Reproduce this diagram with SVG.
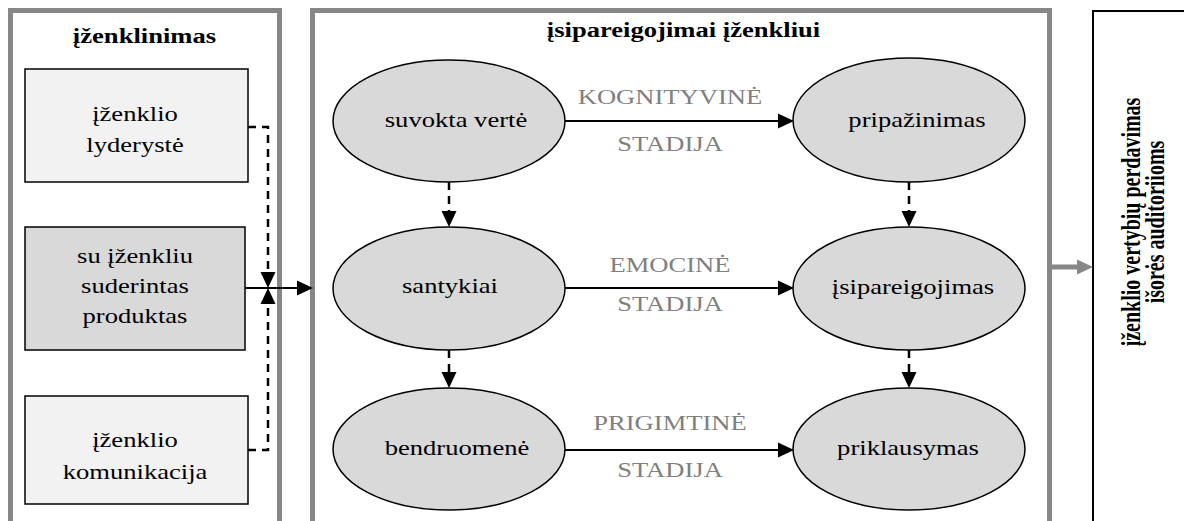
<svg xmlns="http://www.w3.org/2000/svg" width="1184" height="521" viewBox="0 0 1184 521">
  <defs>
    <style>
      .panel{fill:none;stroke:#878787;stroke-width:5}
      .box{stroke:#000;stroke-width:1.5}
      .light{fill:#f2f2f2}
      .mid{fill:#d9d9d9}
      .ell{fill:#d9d9d9;stroke:#000;stroke-width:1.5}
      .lbl{font-family:'Liberation Serif','DejaVu Serif',serif;font-size:20px;text-anchor:middle;fill:#000}
      .title{font-weight:bold}
      .stage{fill:#808080}
      .solid{stroke:#000;stroke-width:2;fill:none}
      .dash{stroke:#000;stroke-width:2.5;fill:none;stroke-dasharray:8 6}
      .grey{stroke:#878787;stroke-width:5;fill:none}
    </style>
    <marker id="ah" markerUnits="userSpaceOnUse" markerWidth="16" markerHeight="15" refX="6" refY="7.5" orient="auto" overflow="visible">
      <path d="M0,0 L16,7.5 L0,15 Z" fill="#000"/>
    </marker>
    <marker id="ahGrey" markerUnits="userSpaceOnUse" markerWidth="16" markerHeight="15" refX="6" refY="7.5" orient="auto" overflow="visible">
      <path d="M0,0 L16,7.5 L0,15 Z" fill="#878787"/>
    </marker>
  </defs>

  <rect width="1184" height="521" fill="#fff"/>

  <g font-family="Liberation Serif, DejaVu Serif, serif">
  <!-- left panel: branding -->
  <g id="panel-branding">
    <rect class="panel" x="10.5" y="10.5" width="269" height="540"/>
    <text class="lbl title" transform="translate(144.5 43) scale(1.33 1)">įženklinimas</text>
  </g>
  <g id="node-lyderyste">
    <rect class="box light" x="25" y="69" width="223" height="113"/>
    <text class="lbl" transform="translate(135 121) scale(1.33 1)"><tspan x="0" y="0">įženklio</tspan><tspan x="0" y="31">lyderystė</tspan></text>
  </g>
  <g id="node-produktas">
    <rect class="box mid" x="25" y="227" width="220" height="123"/>
    <text class="lbl" transform="translate(135 263) scale(1.33 1)"><tspan x="0" y="0">su įženkliu</tspan><tspan x="0" y="30">suderintas</tspan><tspan x="0" y="60">produktas</tspan></text>
  </g>
  <g id="node-komunikacija">
    <rect class="box light" x="25" y="396" width="223" height="108"/>
    <text class="lbl" transform="translate(135 447) scale(1.33 1)"><tspan x="0" y="0">įženklio</tspan><tspan x="0" y="32">komunikacija</tspan></text>
  </g>

  <!-- middle panel: commitments -->
  <g id="panel-commitments">
    <rect class="panel" x="312.5" y="10.5" width="737" height="540"/>
    <text class="lbl title" transform="translate(683.5 37) scale(1.33 1)">įsipareigojimai įženkliui</text>
  </g>
  <g id="node-suvokta-verte">
    <ellipse class="ell" cx="449" cy="121" rx="116" ry="61"/>
    <text class="lbl" transform="translate(456 127) scale(1.33 1)">suvokta vertė</text>
  </g>
  <g id="node-pripazinimas">
    <ellipse class="ell" cx="909" cy="120" rx="116" ry="62"/>
    <text class="lbl" transform="translate(917 127) scale(1.33 1)">pripažinimas</text>
  </g>
  <g id="node-santykiai">
    <ellipse class="ell" cx="449" cy="288.5" rx="116" ry="61.5"/>
    <text class="lbl" transform="translate(450 293) scale(1.33 1)">santykiai</text>
  </g>
  <g id="node-isipareigojimas">
    <ellipse class="ell" cx="909" cy="288.5" rx="116" ry="61.5"/>
    <text class="lbl" transform="translate(913 294) scale(1.33 1)">įsipareigojimas</text>
  </g>
  <g id="node-bendruomene">
    <ellipse class="ell" cx="449" cy="449" rx="116" ry="61"/>
    <text class="lbl" transform="translate(457 455) scale(1.33 1)">bendruomenė</text>
  </g>
  <g id="node-priklausymas">
    <ellipse class="ell" cx="909" cy="449" rx="116" ry="61"/>
    <text class="lbl" transform="translate(908 455) scale(1.33 1)">priklausymas</text>
  </g>

  <!-- stage labels -->
  <g id="stage-labels">
    <text class="lbl stage" transform="translate(670 104) scale(1.33 1)">KOGNITYVINĖ</text>
    <text class="lbl stage" transform="translate(670 151) scale(1.33 1)">STADIJA</text>
    <text class="lbl stage" transform="translate(670 272) scale(1.33 1)">EMOCINĖ</text>
    <text class="lbl stage" transform="translate(670 311) scale(1.33 1)">STADIJA</text>
    <text class="lbl stage" transform="translate(670 430) scale(1.33 1)">PRIGIMTINĖ</text>
    <text class="lbl stage" transform="translate(670 477) scale(1.33 1)">STADIJA</text>
  </g>

  <!-- right box: value transfer -->
  <g id="node-perdavimas">
    <rect x="1093" y="11" width="120" height="540" fill="none" stroke="#000" stroke-width="2"/>
    <text class="lbl title" transform="translate(1140 222) scale(1.33 1) rotate(-90)"><tspan x="0" y="0">įženklio vertybių perdavimas</tspan><tspan x="0" y="18">išorės auditoriioms</tspan></text>
  </g>
  </g>

  <!-- connectors -->
  <g id="connectors">
    <path class="dash" d="M248,127 H268 V278" marker-end="url(#ah)"/>
    <path class="dash" d="M248,450 H268 V298" marker-end="url(#ah)"/>
    <path class="solid" d="M245,288 H303" marker-end="url(#ah)"/>

    <path class="solid" d="M565,121 H784" marker-end="url(#ah)"/>
    <path class="solid" d="M565,288 H784" marker-end="url(#ah)"/>
    <path class="solid" d="M565,450 H784" marker-end="url(#ah)"/>

    <path class="dash" d="M449,182 V217" marker-end="url(#ah)"/>
    <path class="dash" d="M449,350 V378" marker-end="url(#ah)"/>
    <path class="dash" d="M909,182 V217" marker-end="url(#ah)"/>
    <path class="dash" d="M909,350 V378" marker-end="url(#ah)"/>

    <path class="grey" d="M1052,267 H1083" marker-end="url(#ahGrey)"/>
  </g>
</svg>
